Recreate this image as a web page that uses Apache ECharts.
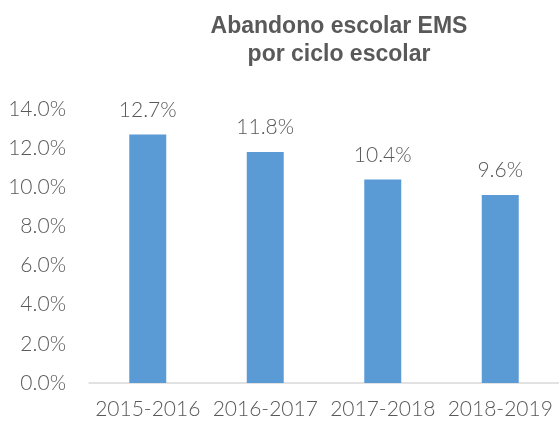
<!DOCTYPE html>
<html>
<head>
<meta charset="utf-8">
<script src="https://cdn.jsdelivr.net/npm/echarts@6/dist/echarts.min.js"></script>
<style>
  html, body { margin: 0; padding: 0; background: #fff; }
  #chart { width: 559px; height: 424px; }
</style>
</head>
<body>
<div id="chart"></div>
<script>
// ciclos escolares
const categories = ['2015-2016', '2016-2017', '2017-2018', '2018-2019'];
// abandono escolar EMS (%)
const abandono = [12.7, 11.8, 10.4, 9.6];
const titleLines = ['Abandono escolar EMS', 'por ciclo escolar'];

const chart = echarts.init(document.getElementById('chart'));
const textColor = '#595959';
const font = 'Lato, "Open Sans", sans-serif';

const option = {
    animation: false,
    title: {
        text: titleLines.join('\n'),
        left: 334,
        top: 8,
        textAlign: 'center',
        textStyle: {
            fontFamily: 'Liberation Sans, Arial, sans-serif',
            fontWeight: 'bold',
            fontSize: 23,
            lineHeight: 28,
            color: textColor
        }
    },
    grid: {
        left: 89,
        right: 0,
        top: 109,
        bottom: 41,
        containLabel: false
    },
    xAxis: {
        type: 'category',
        data: categories,
        axisLine: { lineStyle: { color: '#D9D9D9', width: 1.5 } },
        axisTick: { show: false },
        axisLabel: {
            interval: 0,
            hideOverlap: false,
            color: textColor,
            fontFamily: font,
            fontWeight: 300,
            fontSize: 21,
            margin: 16
        }
    },
    yAxis: {
        type: 'value',
        min: 0,
        max: 14,
        interval: 2,
        splitLine: { show: false },
        axisLine: { show: false },
        axisTick: { show: false },
        axisLabel: {
            color: textColor,
            fontFamily: font,
            fontWeight: 300,
            fontSize: 21,
            margin: 23,
            formatter: v => v.toFixed(1) + '%'
        }
    },
    series: [{
        type: 'bar',
        data: abandono,
        barWidth: 37,
        itemStyle: { color: '#5B9BD5' },
        label: {
            show: true,
            position: 'top',
            distance: 14,
            color: textColor,
            fontFamily: font,
            fontWeight: 300,
            fontSize: 21,
            formatter: p => p.value.toFixed(1) + '%'
        }
    }]
};

chart.setOption(option);
</script>
</body>
</html>
